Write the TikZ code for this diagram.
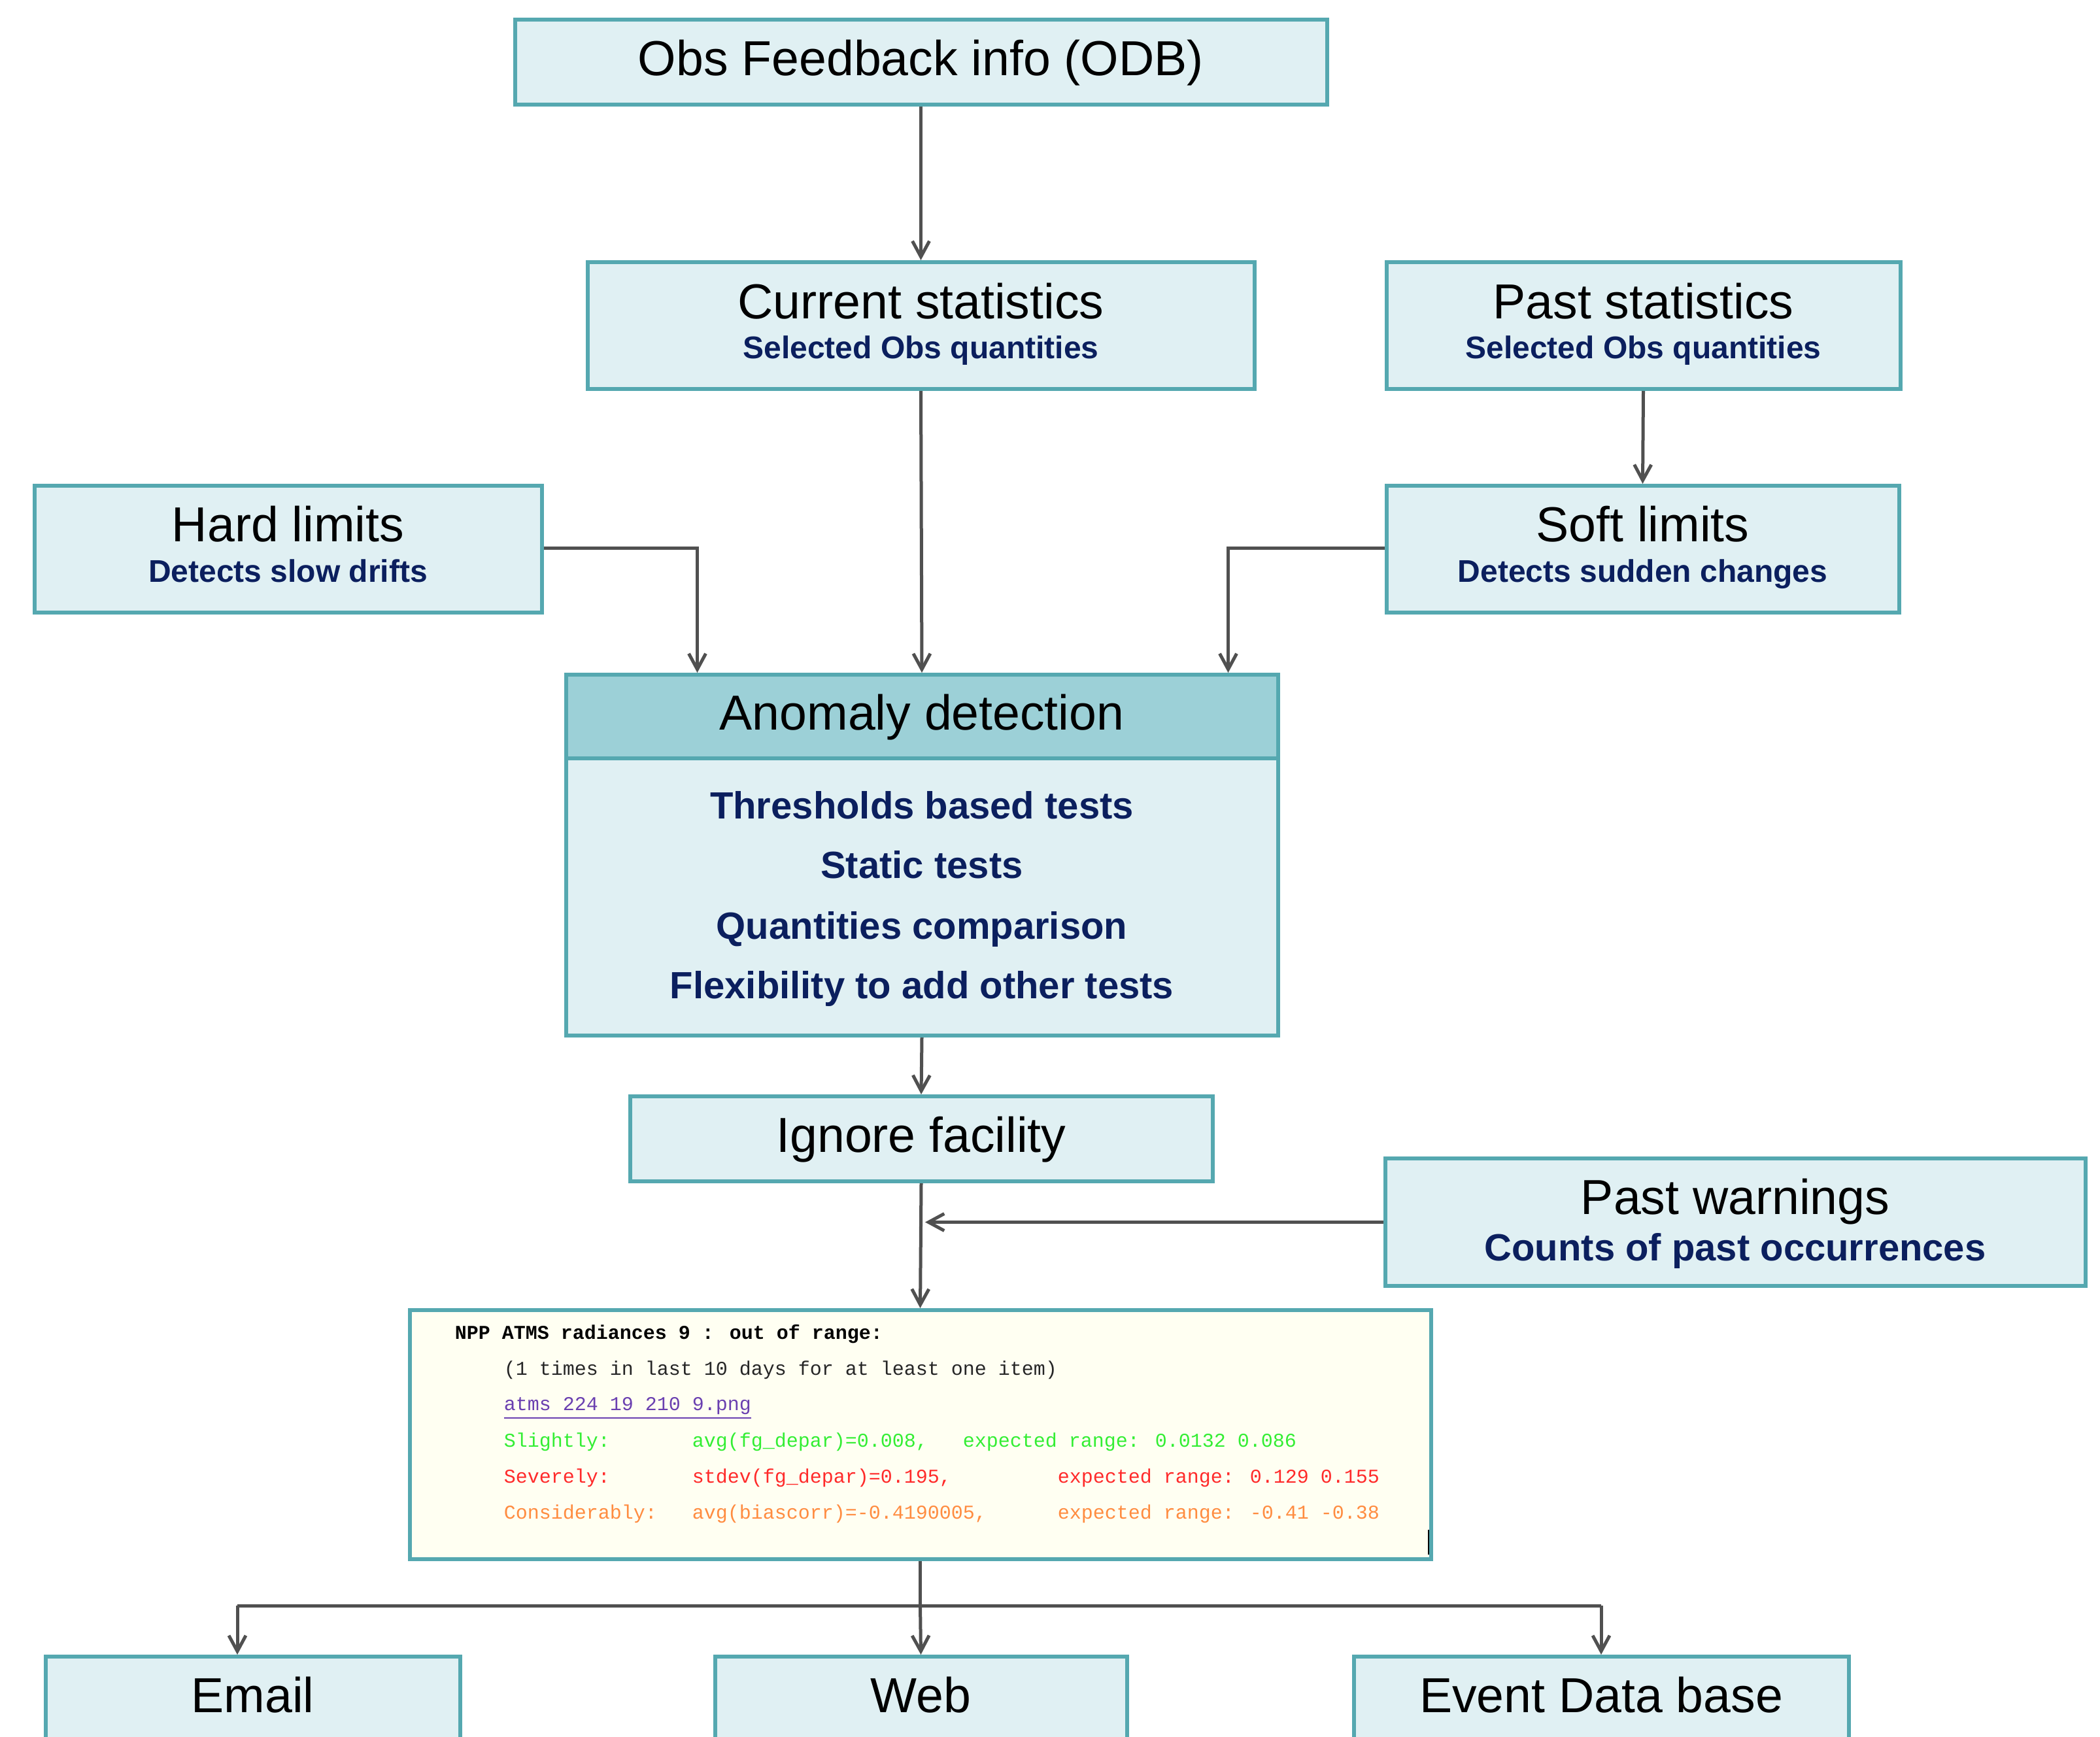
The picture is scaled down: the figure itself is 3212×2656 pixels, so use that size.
\documentclass[tikz,border=0pt]{standalone}
\usepackage{fontspec}
\setmainfont{Liberation Sans}
\newfontfamily\monof{Liberation Mono}
\usetikzlibrary{arrows.meta}
\newcommand\titlef{\fontsize{18.8pt}{22pt}\selectfont}
\newcommand\subf{\fontsize{12pt}{14pt}\selectfont\bfseries}
\newcommand\itemf{\fontsize{14.5pt}{17pt}\selectfont\bfseries}
\newcommand\wf{\monof\fontsize{7.5pt}{9pt}\selectfont}
\definecolor{bordc}{HTML}{55A8B0}
\definecolor{boxf}{HTML}{E0F0F3}
\definecolor{headf}{HTML}{9CD0D7}
\definecolor{warnf}{HTML}{FFFFF2}
\definecolor{connc}{HTML}{505050}
\definecolor{navy}{HTML}{0B1F5E}
\definecolor{wgreen}{HTML}{33EE33}
\definecolor{wred}{HTML}{FF2A2A}
\definecolor{worange}{HTML}{FF8C40}
\definecolor{wlink}{HTML}{6A3FB0}
\begin{document}
\begin{tikzpicture}[x=0.25pt,y=-0.25pt,
  box/.style={draw=bordc, fill=boxf, line width=1.5pt, inner sep=0pt, anchor=north, font=\titlef, text=black},
  onel/.style={text height=21.25pt, text depth=11.25pt},
  twol/.style={text height=21.5pt, text depth=27pt},
  subtxt/.style={inner sep=0pt, anchor=base, font=\subf, text=navy},
  itemtxt/.style={inner sep=0pt, anchor=base, font=\itemf, text=navy},
  mono/.style={inner sep=0pt, anchor=base west, font=\wf},
  conn/.style={draw=connc, line width=1.25pt},
  arr/.style={conn, -{Straight Barb[length=6pt,width=6.5pt]}}
]
\useasboundingbox (0,0) rectangle (3212,2656);
\clip (0,0) rectangle (3212,2656);

% top box
\node[box, onel, minimum width=310.5pt] (obs) at (1408.5,27) {Obs Feedback info (ODB)};

% statistics
\node[box, twol, minimum width=255pt] (cur) at (1408.5,398) {Current statistics};
\node[subtxt] (curS) at (1408.5,548) {Selected Obs quantities};
\node[box, twol, minimum width=196.5pt] (past) at (2513.5,398) {Past statistics};
\node[subtxt] (pastS) at (2513.5,548) {Selected Obs quantities};

% limits
\node[box, text height=21.25pt, text depth=27.25pt, minimum width=194pt] (hard) at (440.5,740) {Hard limits};
\node[subtxt] (hardS) at (440.5,890) {Detects slow drifts};
\node[box, text height=21.25pt, text depth=27.25pt, minimum width=196pt] (soft) at (2512.5,740) {Soft limits};
\node[subtxt] (softS) at (2512.5,890) {Detects sudden changes};

% anomaly detection
\node[box, fill=headf, minimum width=272.25pt, text height=21pt, text depth=11pt] (anomH) at (1410,1029) {Anomaly detection};
\node[box, minimum width=272.25pt, minimum height=106pt] (anomB) at (1410,1157) {};
\node[itemtxt] (it1) at (1410,1252) {Thresholds based tests};
\node[itemtxt] (it2) at (1410,1343) {Static tests};
\node[itemtxt] (it3) at (1410,1436) {Quantities comparison};
\node[itemtxt] (it4) at (1410,1527) {Flexibility to add other tests};

% ignore facility
\node[box, onel, minimum width=222.75pt] (ignore) at (1409,1674) {Ignore facility};

% past warnings
\node[box, text height=21.25pt, text depth=27.5pt, minimum width=267.75pt] (pastw) at (2654,1769) {Past warnings};
\node[itemtxt] (pastwS) at (2654,1928) {Counts of past occurrences};

% warning message box
\node[box, fill=warnf, minimum width=390.5pt, minimum height=95.25pt] (warn) at (1407.5,2001) {};
\node[mono, text=black, font=\wf\bfseries] (w1) at (695,2048) {NPP ATMS radiances 9 : out of range:};
\node[mono, text=black!85] (w2) at (770,2103) {(1 times in last 10 days for at least one item)};
\node[mono, text=wlink] (w3) at (770,2157) {\underline{atms 224 19 210 9.png}};
\node[mono, text=wgreen] (w4a) at (770,2213) {Slightly:};
\node[mono, text=wgreen] (w4b) at (1058,2213) {avg(fg\_depar)=0.008,};
\node[mono, text=wgreen] (w4c) at (1472,2213) {expected range: 0.0132 0.086};
\node[mono, text=wred] (w5a) at (770,2268) {Severely:};
\node[mono, text=wred] (w5b) at (1058,2268) {stdev(fg\_depar)=0.195,};
\node[mono, text=wred] (w5c) at (1617,2268) {expected range: 0.129 0.155};
\node[mono, text=worange] (w6a) at (770,2323) {Considerably:};
\node[mono, text=worange] (w6b) at (1058,2323) {avg(biascorr)=-0.4190005,};
\node[mono, text=worange] (w6c) at (1617,2323) {expected range: -0.41 -0.38};
\draw[black, line width=0.5pt] (2185,2340) -- (2185,2378);

% output boxes (cut by the lower edge)
\node[box, text height=21.25pt, text depth=60pt, minimum width=158.5pt] (email) at (386.5,2531) {Email};
\node[box, text height=21.25pt, text depth=60pt, minimum width=157.5pt] (web) at (1408.5,2531) {Web};
\node[box, text height=21.25pt, text depth=60pt, minimum width=189.25pt] (event) at (2449,2531) {Event Data base};

% connectors
\draw[arr] (obs.south) -- (cur.north);
\draw[arr] (cur.south) -- (anomH.north);
\draw[arr] (past.south) -- (soft.north);
\draw[arr] ([yshift=0.5pt]hard.east) -| ([xshift=51pt]anomH.north west);
\draw[arr] ([yshift=0.5pt]soft.west) -| ([xshift=-19.75pt]anomH.north east);
\draw[arr] (anomB.south) -- (ignore.north);
\draw[arr] (ignore.south) -- (warn.north);
\draw[arr] (pastw.west) -- ([xshift=1.5pt]ignore.south |- pastw.west);
\coordinate (busL) at (363,2456);
\coordinate (busR) at (2449,2456);
\draw[conn] (warn.south) -- (warn.south |- busL);
\draw[conn] (busL) -- (busR);
\draw[arr] (busL) -- (busL |- email.north);
\draw[arr] (warn.south |- busL) -- (web.north);
\draw[arr] (busR) -- (event.north);
\end{tikzpicture}
\end{document}
